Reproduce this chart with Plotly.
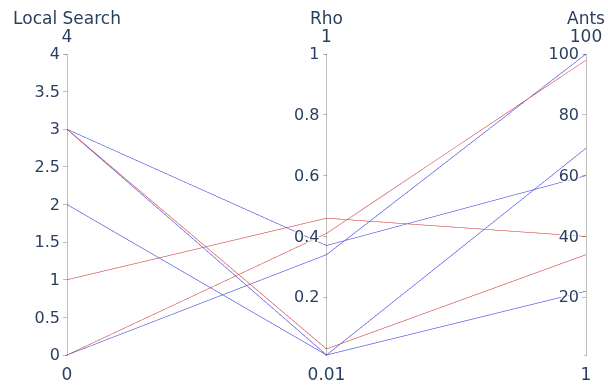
import plotly.graph_objects as go

local_search = [3, 3, 3, 2, 1, 0, 0]
rho = [0.37, 0.01, 0.03, 0.01, 0.46, 0.41, 0.34]
ants = [60, 69, 34, 22, 40, 98, 100]
color_flag = [0, 0, 1, 0, 1, 1, 0]

fig = go.Figure(go.Parcoords(
    line=dict(color=color_flag, colorscale=[[0, "#4a4aff"], [1, "#ee4a4a"]]),
    dimensions=[
        dict(label="Local Search", values=local_search, range=[0, 4]),
        dict(label="Rho", values=rho, range=[0.01, 1]),
        dict(label="Ants", values=ants, range=[1, 100]),
    ],
    labelfont=dict(size=17, family="DejaVu Sans", color="#2a3f5f"),
    rangefont=dict(size=17, family="DejaVu Sans", color="#2a3f5f"),
    tickfont=dict(size=16, family="DejaVu Sans", color="#2a3f5f"),
))
fig.update_layout(
    width=608, height=386,
    margin=dict(l=67, r=22, t=52, b=29),
    paper_bgcolor="white", plot_bgcolor="white",
    font=dict(family="DejaVu Sans", color="#2a3f5f"),
)
fig.write_html("out.html", config={"displayModeBar": False},
               post_script="document.body.style.margin='0';")
